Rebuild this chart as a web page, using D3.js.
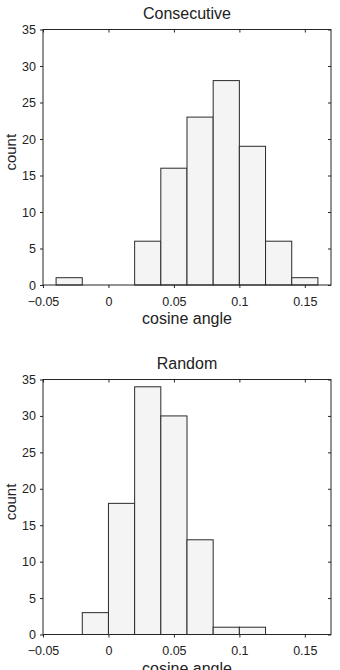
<!DOCTYPE html>
<html>
<head>
<meta charset="utf-8">
<script src="https://cdn.jsdelivr.net/npm/d3@7"></script>
<style>
body { margin: 0; background: #fff; }
text { font-family: "Liberation Sans", Arial, sans-serif; fill: #222; }
</style>
</head>
<body>
<svg id="chart" width="340" height="670"></svg>
<script>
// bords des classes (largeur 0.02)
var binStarts = [-0.04, -0.02, 0, 0.02, 0.04, 0.06, 0.08, 0.1, 0.12, 0.14];
var binWidth = 0.02;
var consecutiveCounts = [1, 0, 0, 6, 16, 23, 28, 19, 6, 1];
var randomCounts = [0, 3, 18, 34, 30, 13, 1, 1, 0, 0];
var xTicks = [-0.05, 0, 0.05, 0.1, 0.15];
var xTickLabels = ["\u22120.05", "0", "0.05", "0.1", "0.15"];
var yTicks = [0, 5, 10, 15, 20, 25, 30, 35];

var svg = d3.select("#chart");

var left = 43, right = 331;

function histo(title, counts, top, bottom) {
    var x = d3.scaleLinear().domain([-0.05, 0.17]).range([left, right]);
    var y = d3.scaleLinear().domain([0, 35]).range([bottom, top]);
    var g = svg.append("g");

    // barres
    g.selectAll("rect.bar")
        .data(binStarts)
        .enter()
        .append("rect")
        .attr("class", "bar")
        .attr("x", function(d) { return x(d); })
        .attr("width", function(d) { return x(d + binWidth) - x(d); })
        .attr("y", function(d, i) { return y(counts[i]); })
        .attr("height", function(d, i) { return y(0) - y(counts[i]); })
        .attr("fill", "#f4f4f4")
        .attr("stroke", "#2a2a2a")
        .attr("stroke-width", 1);

    // cadre
    g.append("rect")
        .attr("x", left).attr("y", top)
        .attr("width", right - left).attr("height", bottom - top)
        .attr("fill", "none").attr("stroke", "#262626").attr("stroke-width", 1);

    var xAxis = d3.axisBottom(x).tickValues(xTicks).tickSize(3).tickPadding(9)
        .tickFormat(function(d, i) { return xTickLabels[i]; });
    var gx = g.append("g").attr("transform", "translate(0," + bottom + ")").call(xAxis);
    gx.select(".domain").remove();
    gx.selectAll("text").style("font-size", "12.5px").style("font-family", "Liberation Sans, Arial, sans-serif").attr("fill", "#222");

    var yAxis = d3.axisLeft(y).tickValues(yTicks).tickSize(3).tickPadding(4);
    var gy = g.append("g").attr("transform", "translate(" + left + ",0)").call(yAxis);
    gy.select(".domain").remove();
    gy.selectAll("text").style("font-size", "12.5px").style("font-family", "Liberation Sans, Arial, sans-serif").attr("fill", "#222");

    // graduations intérieures en haut et à droite
    var gt = g.append("g").attr("transform", "translate(0," + top + ")")
        .call(d3.axisBottom(x).tickValues(xTicks).tickSize(3).tickFormat(""));
    gt.select(".domain").remove();
    var gr = g.append("g").attr("transform", "translate(" + right + ",0)")
        .call(d3.axisLeft(y).tickValues(yTicks).tickSize(3).tickFormat(""));
    gr.select(".domain").remove();

    g.selectAll(".tick line").attr("stroke", "#262626");

    g.append("text")
        .attr("x", (left + right) / 2).attr("y", top - 11)
        .attr("text-anchor", "middle")
        .style("font-size", "16px")
        .text(title);

    g.append("text")
        .attr("x", (left + right) / 2).attr("y", bottom + 39)
        .attr("text-anchor", "middle")
        .style("font-size", "16px")
        .text("cosine angle");

    g.append("text")
        .attr("transform", "translate(15.5," + ((top + bottom) / 2 - 5) + ") rotate(-90)")
        .attr("text-anchor", "middle")
        .style("font-size", "15px")
        .text("count");
}

histo("Consecutive", consecutiveCounts, 29.5, 285);
histo("Random", randomCounts, 379.5, 634.5);
</script>
</body>
</html>
